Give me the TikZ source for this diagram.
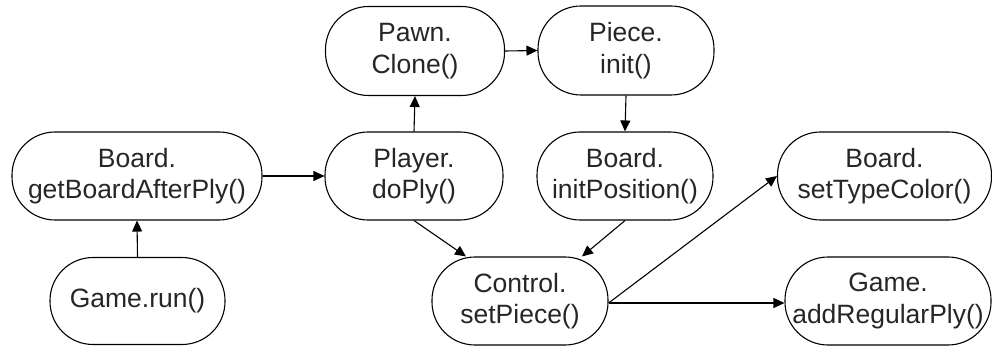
\documentclass[tikz,border=0pt]{standalone}
\usepackage{fontspec}
\setmainfont{Liberation Sans}
\usetikzlibrary{arrows.meta}
\begin{document}
\begin{tikzpicture}[x=1pt,y=-1pt,
  call/.style={draw, line width=1.1pt, rounded corners=43pt, align=center,
    inner sep=0pt, font=\fontsize{26.5}{31.5}\selectfont, text=black!85},
  flow/.style={line width=1.1pt, -{Triangle[length=11pt,width=10pt]}}]
\useasboundingbox (0,0) rectangle (992,347);
\node[call, minimum width=250pt, minimum height=88pt] (gbap) at (137,176) {Board.\\getBoardAfterPly()};
\node[call, minimum width=175pt, minimum height=87pt] (run) at (137.5,301) {Game.run()};
\node[call, minimum width=179pt, minimum height=89pt] (pawn) at (415,51) {Pawn.\\Clone()};
\node[call, minimum width=178pt, minimum height=88pt] (player) at (414,176) {Player.\\doPly()};
\node[call, minimum width=176pt, minimum height=89pt] (piece) at (626,50.5) {Piece.\\init()};
\node[call, minimum width=176pt, minimum height=88pt] (initpos) at (625,176) {Board.\\initPosition()};
\node[call, minimum width=176pt, minimum height=88pt] (control) at (520,301) {Control.\\setPiece()};
\node[call, minimum width=214pt, minimum height=88pt] (stc) at (884.5,176) {Board.\\setTypeColor()};
\node[call, minimum width=206pt, minimum height=88pt] (arp) at (888,301) {Game.\\addRegularPly()};

\draw[flow] (run.north) -- (gbap.south);
\draw[flow] (gbap.east) -- (player.west);
\draw[flow] (player.north) -- (pawn.south);
\draw[flow] (pawn.east) -- (piece.west);
\draw[flow] (piece.south) -- (initpos.south |- initpos.north);
\draw[flow] (player.south) -- ([xshift=-54pt]control.north);
\draw[flow] (initpos.south) -- ([xshift=62pt]control.north);
\draw[flow] ([yshift=-2pt]control.east) -- (stc.west);
\draw[flow] ([yshift=-2pt]control.east) -- ([yshift=-2pt]arp.west);
\end{tikzpicture}
\end{document}
